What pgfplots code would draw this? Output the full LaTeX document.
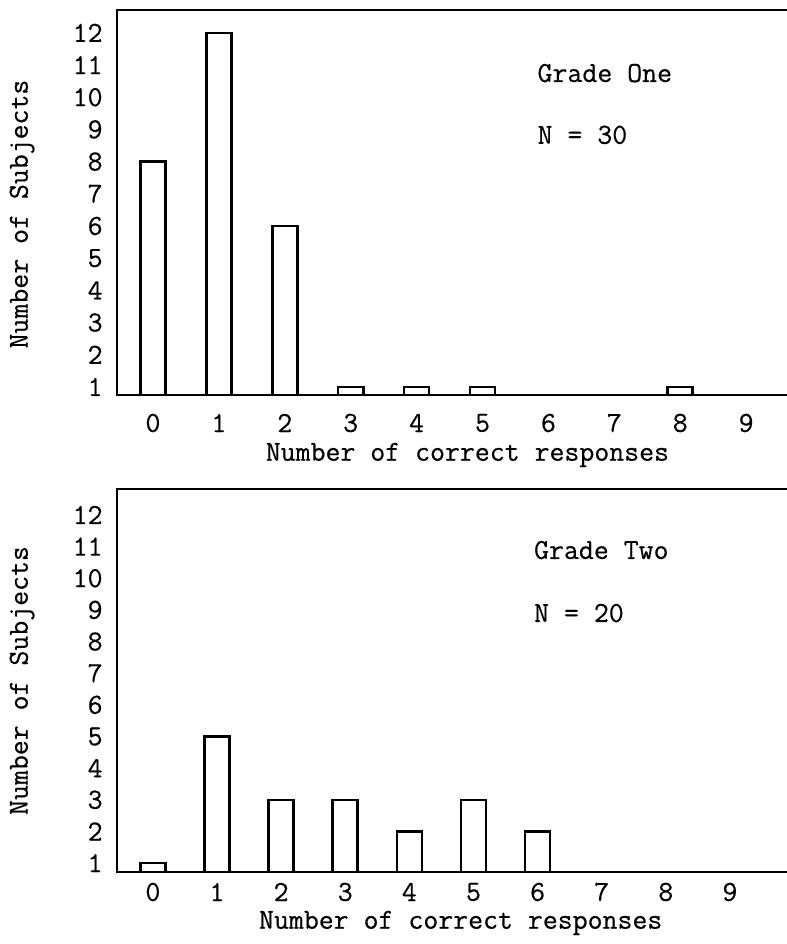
\documentclass[border=0pt]{standalone}
\usepackage{fontspec}
\setmainfont{Latin Modern Mono}[FakeBold=0.5]
\usepackage{pgfplots}
\pgfplotsset{compat=1.18}
\pgfplotstableread{
x y
0 8
1 12
2 6
3 1
4 1
5 1
8 1
}\gradeone
\pgfplotstableread{
x y
0 1
1 5
2 3
3 3
4 2
5 3
6 2
}\gradetwo
\newcommand{\tfont}{\fontsize{14.5}{16}\selectfont}
\pgfplotsset{
  histo/.style={
    scale only axis,
    width=335pt,
    anchor=south west,
    clip mode=individual,
    axis line style={draw=none},
    major tick length=0pt,
    tick style={draw=none},
    xtick={0,...,9},
    ytick={1,...,12},
    /pgf/number format/assume math mode=true,
    tick label style={font=\tfont},
    yticklabel style={anchor=east, inner sep=0pt, xshift=-7pt},
    xticklabel style={anchor=center, inner sep=0pt},
    label style={font=\tfont, inner sep=0pt},
    ybar, bar shift=0pt,
  },
  histbar/.style={draw=black, fill=white, line width=1.3pt},
}
\begin{document}
\begin{tikzpicture}
\useasboundingbox (0,0) rectangle (393.5pt,472pt);
% Top panel
\begin{axis}[histo,
  at={(58.5pt,274.5pt)},
  height=192.5pt,
  xmin=-0.546, xmax=9.62,
  ymin=0.75, ymax=12.71,
  bar width=0.38,
  xticklabel style={yshift=-14pt},
  xlabel={Number of correct responses},
  xlabel style={at={(rel axis cs:0.523,0)}, anchor=center, yshift=-30pt},
  ylabel={Number of Subjects},
  ylabel style={at={(rel axis cs:0,0.47)}, anchor=center, yshift=47.5pt},
]
\addplot[histbar] table[x=x,y=y] {\gradeone};
\draw[line width=1.3pt] (rel axis cs:1,1) -- (rel axis cs:0,1) -- (rel axis cs:0,0) -- (rel axis cs:1,0);
\node[anchor=west, font=\tfont, inner sep=0pt] at (axis cs:5.83,10.75) {Grade One};
\node[anchor=west, font=\tfont, inner sep=0pt] at (axis cs:5.83,8.83) {N = 30};
\end{axis}
% Bottom panel
\begin{axis}[histo,
  at={(58.5pt,36pt)},
  height=191.5pt,
  xmin=-0.56, xmax=9.89,
  ymin=0.72, ymax=12.82,
  bar width=0.39,
  xticklabel style={yshift=-10pt},
  xlabel={Number of correct responses},
  xlabel style={at={(rel axis cs:0.513,0)}, anchor=center, yshift=-25.5pt},
  ylabel={Number of Subjects},
  ylabel style={at={(rel axis cs:0,0.5)}, anchor=center, yshift=47.5pt},
]
\addplot[histbar] table[x=x,y=y] {\gradetwo};
\draw[line width=1.3pt] (rel axis cs:1,1) -- (rel axis cs:0,1) -- (rel axis cs:0,0) -- (rel axis cs:1,0);
\node[anchor=west, font=\tfont, inner sep=0pt] at (axis cs:5.94,10.89) {Grade Two};
\node[anchor=west, font=\tfont, inner sep=0pt] at (axis cs:5.94,8.90) {N = 20};
\end{axis}
\end{tikzpicture}
\end{document}
